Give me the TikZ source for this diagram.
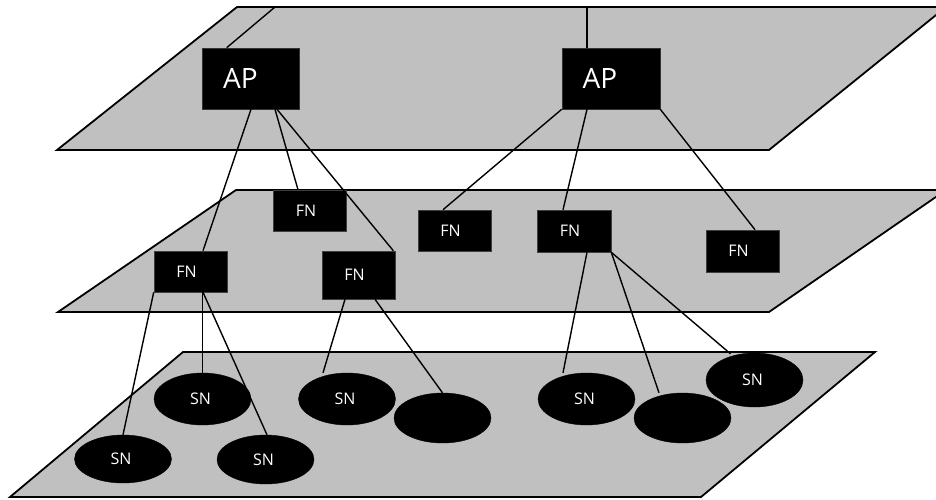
\documentclass[tikz,border=0pt]{standalone}
\usepackage{fontspec}
\setmainfont{Open Sans}
\usetikzlibrary{shapes.geometric,calc}
\tikzset{
  plane/.style={fill=planegray, draw=black, line width=1.8pt, line join=miter},
  link/.style={draw=black, line width=1.4pt},
  apbox/.style={fill=black, draw=black!80, line width=0.6pt, text=white, minimum width=97pt, minimum height=61pt, inner sep=0pt, font=\fontsize{28}{31}\selectfont},
  fnbox/.style={fill=black, draw=black!75, line width=0.6pt, text=white, minimum width=73pt, minimum height=41pt, inner sep=0pt, font=\fontsize{16}{18}\selectfont},
  snell/.style={ellipse, fill=black, draw=black, text=white, minimum width=97pt, minimum height=50pt, inner sep=0pt, font=\fontsize{16}{18}\selectfont},
}
\definecolor{planegray}{RGB}{192,192,192}
\begin{document}
\begin{tikzpicture}[x=1pt,y=-1pt]
\useasboundingbox (0,0) rectangle (936,499);
\clip (0,0) rectangle (936,499);
\fill[white] (0,0) rectangle (936,499);
% planes
\draw[plane] (237,7) -- (946,7) -- (769,150) -- (57,150) -- cycle;
\draw[plane] (236,190) -- (946,190) -- (769,312) -- (58,312) -- cycle;
\draw[plane] (183,352) -- (875,352) -- (701,497) -- (10,497) -- cycle;
% nodes
\node[apbox] (ap1) at (250.5,78.5) {\hspace*{-20pt}AP};
\node[apbox, minimum width=98pt] (ap2) at (611,78.5) {\hspace*{-22pt}AP};
\node[fnbox] (fn1) at (310,210.5) {\hspace*{-8pt}FN};
\node[fnbox] (fn2) at (454.5,230.5) {\hspace*{-8pt}FN};
\node[fnbox, minimum width=74pt, minimum height=42pt] (fn3) at (574,231) {\hspace*{-8pt}FN};
\node[fnbox, minimum height=42pt] (fn4) at (742.5,251) {\hspace*{-8pt}FN};
\node[fnbox] (fn5) at (190.5,271.5) {\hspace*{-8pt}FN};
\node[fnbox, minimum height=48pt] (fn6) at (358.5,275) {\hspace*{-8pt}FN};
\node[snell, minimum height=48pt] (sn1) at (123,459) {\hspace*{-4pt}SN};
\node[snell, minimum height=52pt] (sn2) at (202.5,399) {\hspace*{-4pt}SN};
\node[snell, minimum height=49pt] (sn3) at (265.5,459.5) {\hspace*{-4pt}SN};
\node[snell, minimum height=52pt] (sn4) at (347,399) {\hspace*{-4pt}SN};
\node[snell] (e5) at (442.5,418) {};
\node[snell, minimum height=52pt] (sn6) at (586.5,399) {\hspace*{-4pt}SN};
\node[snell] (e7) at (682.5,418) {};
\node[snell, minimum height=54pt] (sn8) at (754.5,380) {\hspace*{-4pt}SN};
% free ends on top edge
\coordinate (t1) at (275,7);
\coordinate (t2) at (587,7);
% connectors
\begin{scope}[link]
\draw (t1) -- ([xshift=25pt]ap1.north west);
\draw (t2) -- ([xshift=-24pt]ap2.north);
\draw ([xshift=0.5pt]ap1.south) -- ([xshift=12.5pt]fn5.north);
\draw ([xshift=24.5pt]ap1.south) -- ([xshift=-12pt]fn1.north);
\draw ([xshift=26.5pt]ap1.south) -- ([xshift=-2pt]fn6.north east);
\draw (ap2.south west) -- ([xshift=-11.5pt]fn2.north);
\draw ([xshift=-24pt]ap2.south) -- ([xshift=-11pt]fn3.north);
\draw (ap2.south east) -- ([xshift=12.5pt]fn4.north);
\draw (fn5.south west) -- (sn1.north);
\draw ([xshift=12pt]fn5.south) -- (sn2.north);
\draw ([xshift=12.5pt]fn5.south) -- ([xshift=1.5pt]sn3.north);
\draw ([xshift=-13.5pt]fn6.south) -- ([xshift=-24pt]sn4.north);
\draw ([xshift=16.5pt]fn6.south) -- (e5.north);
\draw ([xshift=13pt]fn3.south) -- ([xshift=-23.5pt]sn6.north);
\draw (fn3.south east) -- ([xshift=-23.5pt]e7.north);
\draw (fn3.south east) -- ([xshift=-24pt, yshift=-1pt]sn8.north);
\end{scope}
\end{tikzpicture}
\end{document}
